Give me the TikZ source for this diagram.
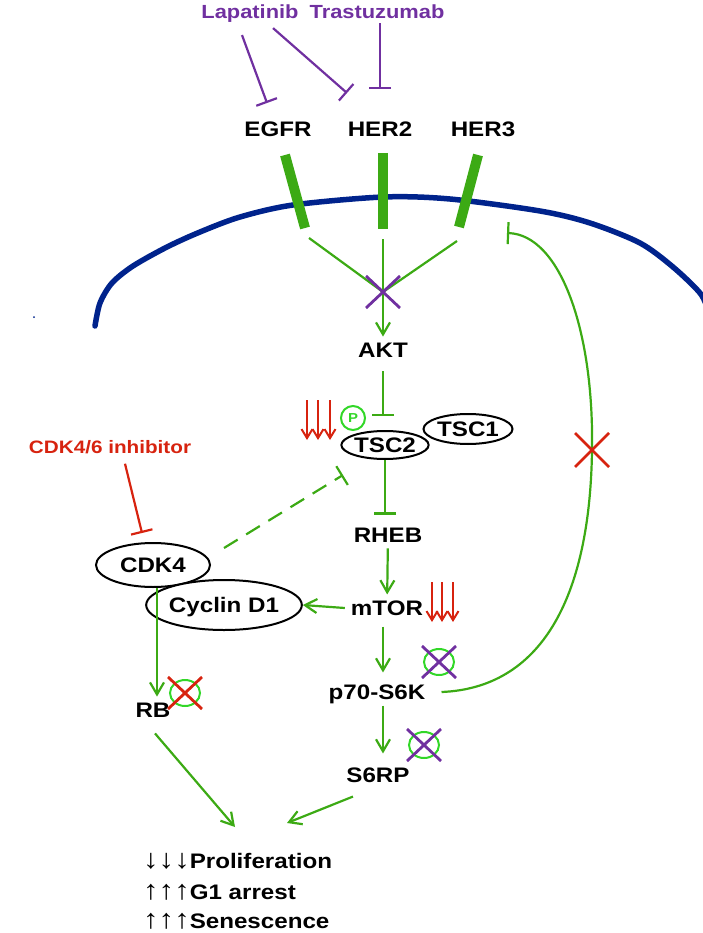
\documentclass[tikz,border=0pt]{standalone}
\usepackage{fontspec}
\setmainfont{Liberation Sans}[FakeStretch=1.15]
\usetikzlibrary{arrows.meta,shapes.geometric}
\definecolor{pathgreen}{RGB}{60,170,20}
\definecolor{ringgreen}{RGB}{50,215,40}
\definecolor{drugpurple}{RGB}{112,48,160}
\definecolor{drugred}{RGB}{215,35,15}
\definecolor{membblue}{RGB}{0,35,140}
\newcommand{\arr}[1]{{\fontsize{27}{25}\selectfont\mdseries #1}}
\tikzset{
    lbl/.style={font=\fontsize{21}{25}\selectfont\bfseries, inner sep=6pt, text depth=0pt}, % labels
    drug/.style={lbl, font=\fontsize{19}{23}\selectfont\bfseries, text=drugpurple},
    prot/.style={lbl, draw, ellipse, line width=2pt, fill=white, inner sep=0pt},
    act/.style={pathgreen, line width=2.2pt, -{Straight Barb[length=12pt,width=14pt]}},
    inh/.style={line width=2.2pt, -{Bar[width=22pt]}},
    down/.style={drugred, line width=2pt, -{Straight Barb[length=9pt,width=11pt]}},
    ring/.style={ringgreen, line width=2pt},
    cross/.style={line width=2.8pt},
    receptor/.style={pathgreen, line width=10pt},
    membrane/.style={membblue, line width=5.5pt, line cap=round}
}
% knocked-out readout: ring plus cross
\newcommand{\knockout}[2]{%
    \draw[ring] (#1) ellipse (15 and 13);
    \draw[cross, #2] (#1) +(-17,-16) -- +(17,16) +(-17,16) -- +(17,-16);}

\begin{document}
\begin{tikzpicture}[x=1pt, y=-1pt]
    \useasboundingbox (0,0) rectangle (702,933);

    % cell membrane
    \draw[membrane] plot[smooth] coordinates {(95,326) (100,303) (112,283) (133,266) (167,247) (200,232) (240,217) (293,205) (383,197) (450,199) (540,211) (590,223) (640,243) (673,267) (700,293) (708,310)};
    \fill[membblue] (34,317) circle (1);

    % drugs and receptors
    \node[drug] (lap) at (250,12) {Lapatinib};
    \node[drug] (tra) at (377,12) {Trastuzumab};
    \node[lbl] (egfr) at (278,129) {EGFR};
    \node[lbl] (her2) at (380,129) {HER2};
    \node[lbl] (her3) at (483,129) {HER3};
    \coordinate (hitegfr) at (267,103);
    \coordinate (hither2a) at (347,93);
    \coordinate (hither2b) at (380,89);
    \draw[inh, drugpurple] ([shift={(-8,10)}]lap.south) -- (hitegfr);
    \draw[inh, drugpurple] ([shift={(23,3)}]lap.south) -- (hither2a);
    \draw[inh, drugpurple] ([shift={(3,-2)}]tra.south) -- (hither2b);

    \draw[receptor] (285,155) -- (305,228);
    \draw[receptor] (383,153) -- (383,229);
    \draw[receptor] (478,155) -- (459,227);

    % pathway nodes
    \node[lbl] (akt) at (383,350) {AKT};
    \node[prot, minimum width=89pt, minimum height=30pt] (tsc1) at (468,429) {TSC1};
    \node[prot, minimum width=84pt, minimum height=28pt] (tsc2) at (385,445) {TSC2};
    \node[circle, draw=ringgreen, line width=2pt, minimum size=24pt, inner sep=0pt,
          text=ringgreen, font=\fontsize{13}{15}\selectfont\bfseries] (pho) at (353,418) {P};
    \node[lbl] (rheb) at (388,535) {RHEB};
    \node[lbl] (mtor) at (387,608) {mTOR};
    \node[lbl, text=drugred, font=\fontsize{18}{22}\selectfont\bfseries] (inhib) at (110,447) {CDK4/6 inhibitor};
    \node[prot, minimum width=114pt, minimum height=44pt] (cdk4) at (153,565) {CDK4};
    \node[prot, minimum width=123pt, minimum height=50pt] (cyc) at (224,605) {Cyclin D1};
    \node[lbl] (rb) at (153,710) {RB};
    \node[lbl] (p70) at (377,692) {p70-S6K};
    \node[lbl] (s6rp) at (378,775) {S6RP};

    % receptor signal to AKT
    \coordinate (rc1) at (309,238);
    \coordinate (rc2) at (383,239);
    \coordinate (rc3) at (457,241);
    \coordinate (hub) at (383,292);
    \draw[pathgreen, line width=2.2pt] (rc1) -- (hub);
    \draw[pathgreen, line width=2.2pt] (rc3) -- (hub);
    \draw[act] (rc2) -- (akt);
    \draw[cross, drugpurple] (hub) +(-17,-16) -- +(17,16) +(-17,16) -- +(17,-16);

    % connectors
    \draw[inh, pathgreen, shorten <=8pt, shorten >=14pt] (akt.south) -- (akt.south |- tsc2.north);
    \draw[inh, pathgreen, shorten >=7pt] (tsc2.south) -- (tsc2.south |- rheb.north);
    \draw[act] (rheb) -- (mtor);
    \draw[act] (mtor.west) -- (cyc.east);
    \draw[act, shorten <=5pt, shorten >=6pt] ([xshift=-4pt]mtor.south) -- ([xshift=6pt]p70.north);
    \draw[act, shorten >=8pt] ([xshift=6pt]p70.south) -- ([xshift=5pt]s6rp.north);
    \draw[act] ([xshift=4pt]cdk4.south) -- ([xshift=4pt]rb.north);
    \draw[inh, drugred] ([shift={(15,4)}]inhib.south) -- ([shift={(-11,-9)}]cdk4.north);
    \draw[inh, pathgreen, dash pattern=on 16pt off 10pt] ([shift={(13,-17)}]cdk4.east) -- ([shift={(-42,30)}]tsc2.center);

    % feedback to the receptors
    \coordinate (fbx) at (592,450);
    \coordinate (fbhit) at (507,233);
    \draw[inh, pathgreen] ([xshift=10pt]p70.east) .. controls (540,688) and (590,600) .. (fbx)
        .. controls (594,330) and (560,235) .. (fbhit);
    \draw[cross, drugred] (fbx) +(-17,-17) -- +(17,17) +(-17,17) -- +(17,-17);

    % red down arrows
    \foreach \x in {307,318,330} {\draw[down] (\x,400) -- (\x,440);}
    \foreach \x in {432,442,453} {\draw[down] (\x,582) -- (\x,622);}

    % lost readouts
    \knockout{185,693}{drugred}
    \knockout{439,662}{drugpurple}
    \knockout{424,745}{drugpurple}

    % outcome
    \coordinate (sink1) at (235,827);
    \coordinate (sink2) at (287,823);
    \draw[act] ([shift={(2,10)}]rb.south) -- (sink1);
    \draw[act] ([shift={(-25,8)}]s6rp.south) -- (sink2);
    \node[lbl, anchor=base west, inner sep=0pt] (out1) at (143,868) {\arr{↓↓↓}Proliferation};
    \node[lbl, anchor=base west, inner sep=0pt] (out2) at (143,899) {\arr{↑↑↑}G1 arrest};
    \node[lbl, anchor=base west, inner sep=0pt] (out3) at (143,928) {\arr{↑↑↑}Senescence};
\end{tikzpicture}
\end{document}
